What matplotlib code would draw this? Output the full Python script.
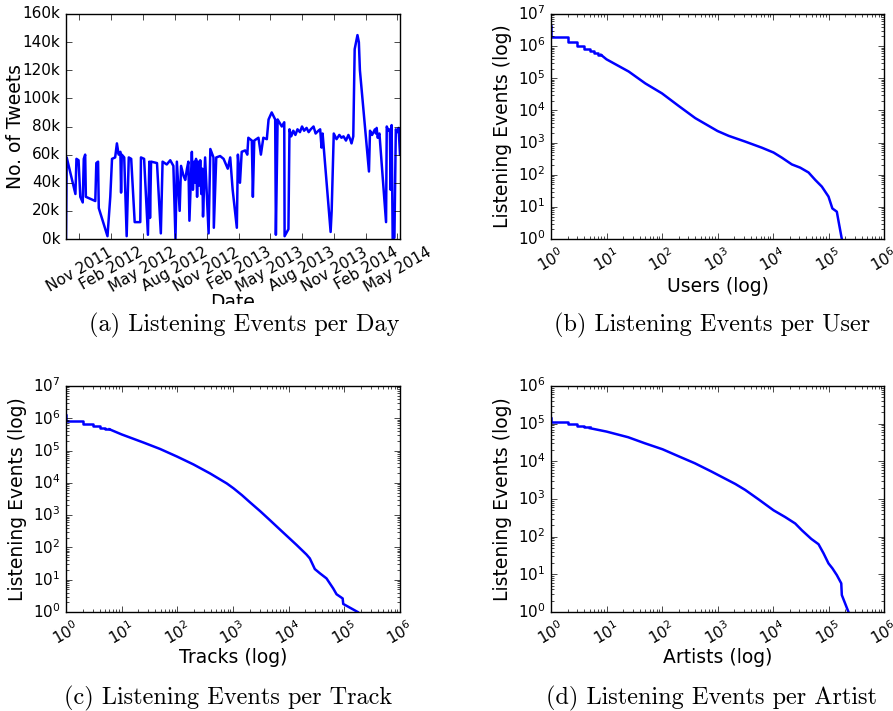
import datetime as dt
import matplotlib
matplotlib.use("Agg")
import matplotlib.pyplot as plt
import matplotlib.dates as mdates
from matplotlib.patches import Rectangle
from matplotlib.ticker import FuncFormatter

# (a) tweets per day: day offset from start, count in k
start_day = dt.date(2011, 9, 24)
day_offset = [0, 2, 27, 30, 36, 41, 48, 51, 55, 57, 84, 87, 92, 94, 119, 127, 132,
              141, 146, 151, 156, 158, 160, 167, 174, 180, 187, 197, 213, 215, 224,
              235, 239, 241, 244, 261, 272, 277, 289, 299, 308, 314, 318, 326, 330,
              337, 342, 347, 351, 354, 361, 364, 368, 371, 373, 376, 379, 382, 385,
              388, 391, 393, 399, 409, 414, 423, 424, 431, 442, 452, 464, 471, 478,
              490, 493, 499, 504, 514, 520, 523, 533, 536, 540, 552, 559, 566, 576,
              581, 590, 600, 602, 607, 619, 626, 627, 638, 641, 646, 652, 658, 664,
              671, 677, 683, 690, 696, 702, 710, 716, 724, 729, 733, 736, 759, 762,
              768, 776, 784, 790, 796, 803, 810, 815, 819, 824, 828, 836, 840, 843,
              869, 872, 878, 886, 889, 891, 894, 899, 918, 920, 925, 929, 931, 934,
              937, 942, 946, 950, 954, 958]
tweets_k = [0, 58, 32, 57, 56, 30, 26, 57, 60, 30, 27, 54, 55, 22, 2, 30, 57,
            58, 68, 60, 62, 33, 60, 58, 2, 58, 57, 12, 12, 58, 57,
            3, 55, 15, 55, 54, 4, 55, 53, 56, 52, 0, 55, 20, 52,
            45, 42, 50, 55, 13, 62, 35, 55, 40, 57, 30, 55, 38, 56,
            32, 50, 16, 58, 4, 64, 58, 8, 58, 59, 57, 50, 58, 35,
            8, 60, 40, 62, 63, 60, 72, 70, 30, 70, 72, 60, 72, 71,
            85, 90, 85, 3, 85, 80, 83, 2, 7, 78, 73, 77, 74, 78,
            76, 80, 77, 79, 76, 78, 80, 75, 77, 78, 65, 75, 5, 20,
            75, 71, 74, 72, 73, 70, 74, 71, 68, 73, 135, 145, 140, 120,
            48, 77, 74, 78, 75, 79, 72, 75, 12, 80, 77, 78, 35, 81,
            0, 1, 78, 76, 79, 60]

# (b) listening events per user: head (integer ranks) and tail, log10 values
user_head_rank = [1, 2, 3, 4, 5, 6, 7, 8]
user_head_log = [6.64, 6.30, 6.13, 6.01, 5.92, 5.85, 5.79, 5.73]
user_tail_lrank = [0.90, 1.00, 1.40, 1.70, 2.00, 2.30, 2.60, 2.90, 3.00, 3.20, 3.50,
                   3.80, 4.01, 4.16, 4.34, 4.49, 4.64, 4.76, 4.88, 5.00, 5.07,
                   5.15, 5.18, 5.24]
user_tail_log = [5.73, 5.59, 5.21, 4.84, 4.53, 4.14, 3.76, 3.46, 3.36, 3.21, 3.03,
                 2.84, 2.69, 2.53, 2.32, 2.22, 2.07, 1.84, 1.63, 1.32, 0.95,
                 0.85, 0.56, 0.0]

# (c) listening events per track
track_head_rank = [1, 2, 3, 4, 5, 6]
track_head_log = [6.10, 5.91, 5.83, 5.76, 5.71, 5.66]
track_tail_lrank = [0.78, 1.00, 1.39, 1.69, 2.00, 2.29, 2.59, 2.89, 3.01, 3.16, 3.31,
                    3.49, 3.66, 3.84, 3.99, 4.14, 4.32, 4.38, 4.47, 4.56, 4.68,
                    4.80, 4.86, 4.97, 4.98, 5.24]
track_tail_log = [5.66, 5.50, 5.25, 5.05, 4.81, 4.57, 4.29, 3.98, 3.83, 3.62, 3.39,
                  3.12, 2.85, 2.56, 2.32, 2.08, 1.78, 1.66, 1.33, 1.20, 1.04,
                  0.73, 0.55, 0.42, 0.25, 0.0]

# (d) listening events per artist
artist_head_rank = [1, 2, 3, 4, 5]
artist_head_log = [5.14, 5.04, 4.98, 4.95, 4.91]
artist_tail_lrank = [0.70, 1.00, 1.39, 1.69, 2.01, 2.29, 2.59, 2.89, 3.02, 3.32, 3.50,
                     3.74, 4.01, 4.22, 4.40, 4.52, 4.69, 4.82, 4.91, 5.00, 5.07,
                     5.15, 5.23, 5.24, 5.36]
artist_tail_log = [4.88, 4.79, 4.64, 4.48, 4.32, 4.14, 3.95, 3.73, 3.63, 3.40, 3.24,
                   2.99, 2.70, 2.52, 2.35, 2.17, 1.94, 1.80, 1.56, 1.29, 1.16,
                   0.98, 0.76, 0.45, 0.0]

captions = ["(a) Listening Events per Day", "(b) Listening Events per User",
            "(c) Listening Events per Track", "(d) Listening Events per Artist"]

plt.style.use("classic")
plt.rcParams["figure.facecolor"] = "white"
plt.rcParams["savefig.facecolor"] = "white"
plt.rcParams["font.family"] = "DejaVu Sans"

W, H = 893, 711
fig = plt.figure(figsize=(W / 100, H / 100), dpi=100)


def px_axes(x0, y0, x1, y1):
    return fig.add_axes([x0 / W, 1 - y1 / H, (x1 - x0) / W, (y1 - y0) / H])


LW = 1.8
TICK = 11
LAB = 13.5

# (a)
ax = px_axes(66, 14, 400, 239)
dates = [start_day + dt.timedelta(days=d) for d in day_offset]
ax.plot(dates, tweets_k, color="b", lw=LW)
ax.set_xlim(dates[0], dates[-1])
ax.set_ylim(0, 160)
ax.set_yticks(range(0, 161, 20))
ax.yaxis.set_major_formatter(FuncFormatter(lambda v, p: "%dk" % v))
ax.xaxis.set_major_locator(mdates.MonthLocator(bymonth=[2, 5, 8, 11]))
ax.xaxis.set_major_formatter(mdates.DateFormatter("%b %Y"))
ax.tick_params(labelsize=TICK)
for t in ax.get_xticklabels():
    t.set_rotation(30)
    t.set_ha("center")
ax.set_xlabel("Date", fontsize=LAB)
ax.set_ylabel("No. of Tweets", fontsize=LAB)
ax.xaxis.set_label_coords(0.5, -0.24)
ax.yaxis.set_label_coords(-0.123, 0.5)


def rank_panel(box, head_r, head_l, tail_lr, tail_l, xlabel, ymax, xlab_y):
    ax = px_axes(*box)
    ax.plot(head_r, [10 ** v for v in head_l], color="b", lw=LW, drawstyle="steps-pre")
    ax.plot([10 ** r for r in tail_lr], [10 ** v for v in tail_l], color="b", lw=LW)
    ax.set_xscale("log")
    ax.set_yscale("log")
    ax.set_xlim(1, 1e6)
    ax.set_ylim(1, ymax)
    ax.tick_params(labelsize=TICK)
    for t in ax.get_xticklabels():
        t.set_rotation(30)
    ax.set_xlabel(xlabel, fontsize=LAB)
    ax.set_ylabel("Listening Events (log)", fontsize=LAB)
    ax.xaxis.set_label_coords(0.5, xlab_y)
    ax.yaxis.set_label_coords(-0.116, 0.5)
    return ax


rank_panel((551, 14, 884, 239), user_head_rank, user_head_log,
           user_tail_lrank, user_tail_log, "Users (log)", 1e7, -0.169)
rank_panel((66, 386, 400, 612), track_head_rank, track_head_log,
           track_tail_lrank, track_tail_log, "Tracks (log)", 1e7, -0.159)
rank_panel((551, 386, 884, 612), artist_head_rank, artist_head_log,
           artist_tail_lrank, artist_tail_log, "Artists (log)", 1e6, -0.159)

# the "Date" label is cut off in the original
fig.add_artist(Rectangle((0, 1 - 345 / H), 0.5, 41 / H, transform=fig.transFigure,
                         facecolor="white", edgecolor="none", zorder=5))

cap_pos = [(244, 325), (712, 325), (228, 698), (712, 698)]
for (cx, cy), txt in zip(cap_pos, captions):
    fig.text(cx / W, 1 - cy / H, txt, ha="center", va="center",
             family="cmr10", fontsize=17.5, zorder=6)

fig.savefig("out.png", dpi=100)
